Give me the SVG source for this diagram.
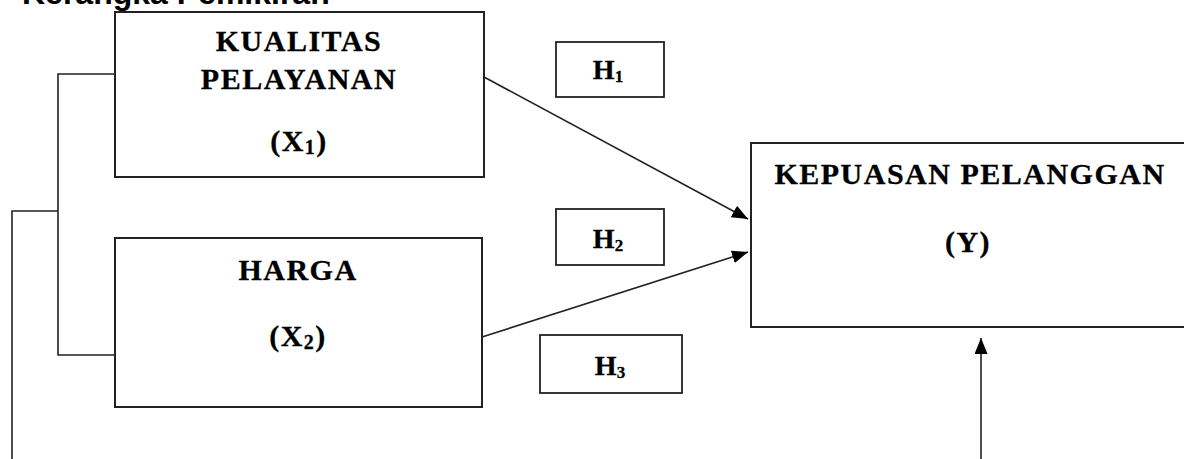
<svg xmlns="http://www.w3.org/2000/svg" width="1184" height="459" viewBox="0 0 1184 459">
<style>
.box{fill:#fff;stroke:#222;stroke-width:2}
.hbox{fill:#fff;stroke:#222;stroke-width:1.8}
.lbl{font-family:"Liberation Serif","Times New Roman",serif;font-weight:bold;fill:#000;stroke:#000;stroke-width:0.3;text-anchor:middle}
.big{font-size:30px;letter-spacing:1.5px}
.hl{font-size:28px}
.con{fill:none;stroke:#222;stroke-width:1.6}
.head{font-family:"Liberation Sans",Arial,sans-serif;font-weight:bold;font-size:32px;fill:#000}
</style>
<defs>
<marker id="ah" markerUnits="userSpaceOnUse" markerWidth="17" markerHeight="13" refX="16" refY="6.5" orient="auto">
<path d="M0,0 L16,6.5 L0,13 z" fill="#000"/>
</marker>
</defs>
<rect width="1184" height="459" fill="#fff"/>
<text class="head" x="22" y="4">Kerangka Pemikiran</text>

<g id="connectors">
<polyline class="con" points="115,74 58,74 58,355 115,355"/>
<polyline class="con" points="58,211 12,211 12,470"/>
<line class="con" x1="484" y1="77" x2="748" y2="219" marker-end="url(#ah)"/>
<line class="con" x1="482" y1="337" x2="748" y2="252" marker-end="url(#ah)"/>
<line class="con" x1="981" y1="470" x2="981" y2="338" marker-end="url(#ah)"/>
</g>

<g id="x1">
<rect class="box" x="115" y="12" width="369" height="165"/>
<text class="lbl big" x="299" y="51">KUALITAS</text>
<text class="lbl big" x="299" y="89">PELAYANAN</text>
<text class="lbl big" x="299" y="151">(X<tspan font-size="20" dy="3">1</tspan><tspan dy="-3">)</tspan></text>
</g>

<g id="x2">
<rect class="box" x="115" y="238" width="367" height="169"/>
<text class="lbl big" x="298" y="280">HARGA</text>
<text class="lbl big" x="298" y="346">(X<tspan font-size="20" dy="3">2</tspan><tspan dy="-3">)</tspan></text>
</g>

<g id="y">
<rect class="box" x="751" y="143" width="440" height="184"/>
<text class="lbl big" x="970" y="184">KEPUASAN PELANGGAN</text>
<text class="lbl big" x="968" y="252">(Y)</text>
</g>

<g id="h1">
<rect class="hbox" x="556" y="42" width="108" height="55"/>
<text class="lbl hl" x="608" y="79">H<tspan font-size="17" dy="3">1</tspan></text>
</g>

<g id="h2">
<rect class="hbox" x="556" y="209" width="108" height="56"/>
<text class="lbl hl" x="608" y="248">H<tspan font-size="17" dy="3">2</tspan></text>
</g>

<g id="h3">
<rect class="hbox" x="540" y="335" width="142" height="58"/>
<text class="lbl hl" x="610" y="375">H<tspan font-size="17" dy="3">3</tspan></text>
</g>
</svg>
